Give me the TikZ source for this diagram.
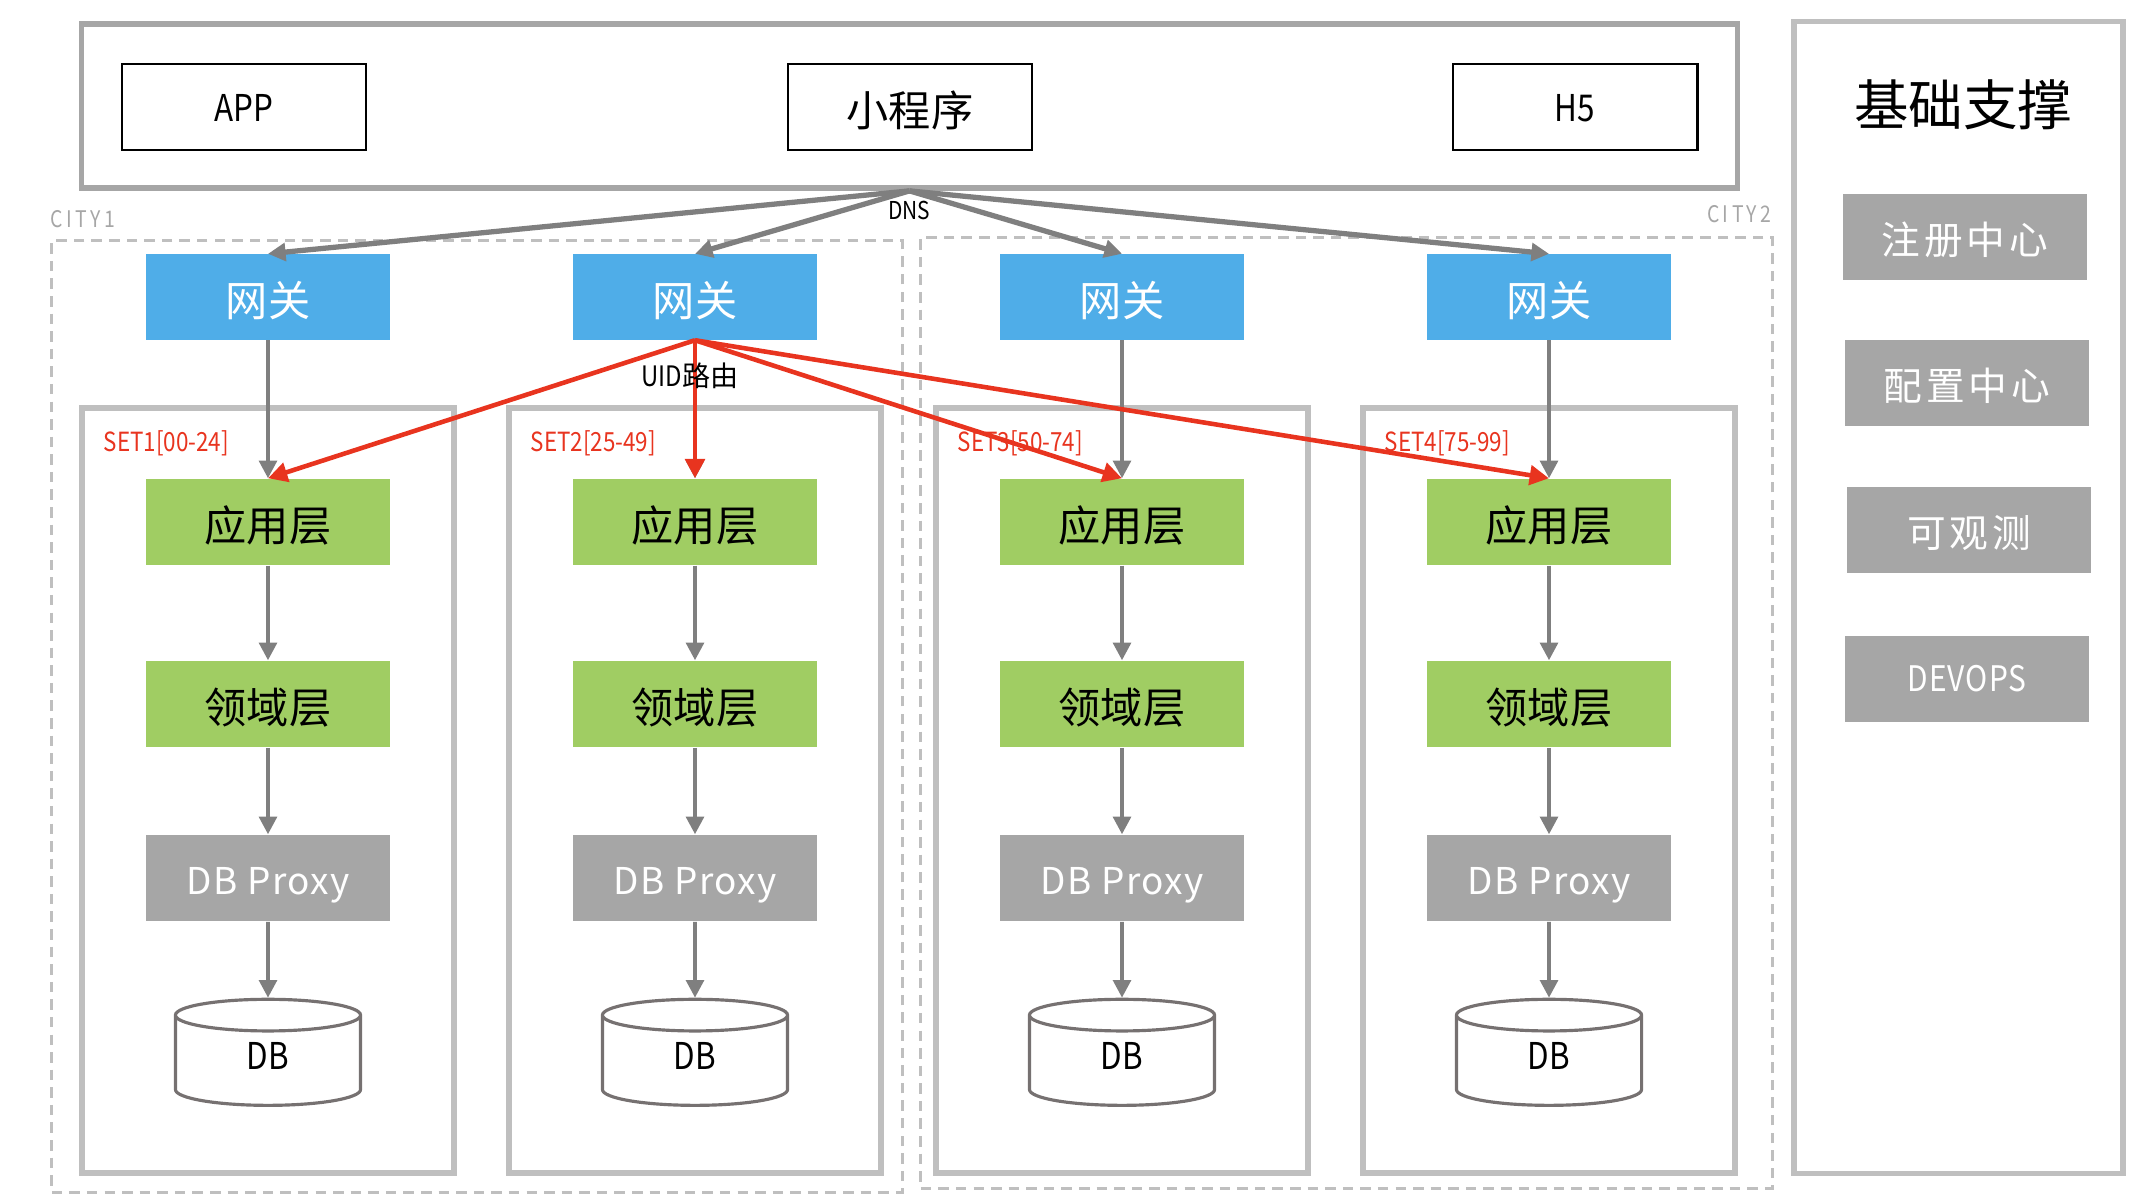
\documentclass[tikz,border=0pt]{standalone}
\usepackage{fontspec}
\setmainfont{Noto Sans CJK SC}
\newfontfamily\narrowfont[FakeStretch=0.85]{Noto Sans CJK SC}
\usetikzlibrary{shapes.geometric,arrows.meta,positioning}

\definecolor{gwblue}{HTML}{4FADE8}
\definecolor{layergreen}{HTML}{A0CD63}
\definecolor{boxgray}{HTML}{A6A6A6}
\definecolor{framegray}{HTML}{BFBFBF}
\definecolor{flowgray}{HTML}{7F7F7F}
\definecolor{cylgray}{HTML}{767171}
\definecolor{routered}{HTML}{E8341F}

\begin{document}
\begin{tikzpicture}[x=0.01cm,y=-0.01cm,
  every node/.style={align=center,inner sep=0pt},
  clientbox/.style={draw=black,line width=0.8pt,minimum width=2.44cm,minimum height=0.86cm,text height=8.5pt,text depth=0pt},
  gwbox/.style={fill=gwblue,text=white,minimum width=2.44cm,minimum height=0.85cm,text height=11pt,text depth=0pt,font=\fontsize{12}{14}\selectfont},
  layerbox/.style={fill=layergreen,minimum width=2.44cm,minimum height=0.86cm,text height=11pt,text depth=0pt,font=\fontsize{12}{14}\selectfont},
  proxybox/.style={fill=boxgray,text=white,minimum width=2.44cm,minimum height=0.86cm,text height=9.5pt,text depth=0pt,font=\fontsize{10.5}{12}\selectfont\addfontfeatures{LetterSpace=4}},
  dbcyl/.style={cylinder,shape border rotate=90,aspect=0.75,draw=cylgray,line width=0.9pt,fill=white,minimum width=1.85cm,minimum height=1.06cm,font=\narrowfont\fontsize{10.5}{12}\selectfont},
  setframe/.style={draw=framegray,line width=1.6pt,minimum width=3.72cm,minimum height=7.65cm},
  setlabel/.style={text=routered,font=\narrowfont\fontsize{7.5}{9}\selectfont},
  cityframe/.style={draw=framegray,line width=0.85pt,dash pattern=on 3pt off 2pt},
  citylabel/.style={text=boxgray,font=\narrowfont\fontsize{6.5}{8}\selectfont\addfontfeatures{LetterSpace=15}},
  supportbox/.style={fill=boxgray,text=white,minimum width=2.43cm,minimum height=0.85cm,text height=10pt,text depth=0pt,font=\fontsize{11}{13}\selectfont\addfontfeatures{LetterSpace=10}},
  flow/.style={draw=flowgray,line width=1.1pt,-{Triangle[width=5pt,length=5pt]}},
  dnsflow/.style={flow,line width=1.5pt},
  uidflow/.style={draw=routered,line width=1.3pt,-{Triangle[width=5.5pt,length=5.5pt]}}]
\useasboundingbox (0,0) rectangle (2134,1202);

% clients
\node[draw=boxgray,line width=1.6pt,minimum width=16.55cm,minimum height=1.64cm] (clients) at (909.5,106) {};
\node[clientbox,font=\narrowfont\fontsize{10.5}{12}\selectfont] (appclient) at (244,107) {APP};
\node[clientbox,text height=11pt,font=\fontsize{12}{14}\selectfont] (miniclient) at (910,107) {小程序};
\node[clientbox,font=\narrowfont\fontsize{10.5}{12}\selectfont] (hfiveclient) at (1575,107) {H5};
\node[font=\narrowfont\fontsize{7}{8}\selectfont] (dnslab) at (909,210) {DNS};

% cities
\node[cityframe,minimum width=8.5cm,minimum height=9.51cm] (city1) at (477,716.5) {};
\node[cityframe,minimum width=8.51cm,minimum height=9.5cm] (city2) at (1346.5,713) {};
\node[citylabel,anchor=west] (city1lab) at (50,219) {CITY1};
\node[citylabel,anchor=east] (city2lab) at (1772,214) {CITY2};

% sets
\foreach \i/\x/\setlab in {1/268/{SET1[00-24]},2/695/{SET2[25-49]},3/1122/{SET3[50-74]},4/1549/{SET4[75-99]}} {
  \node[setframe] (set\i) at (\x,790.5) {};
  \node[setlabel,anchor=west] (setlab\i) at ([xshift=0.24cm,yshift=-0.38cm]set\i.north west) {\setlab};
  \node[gwbox] (gw\i) at (\x,297) {网关};
  \node[layerbox] (app\i) at (\x,522) {应用层};
  \node[layerbox] (dom\i) at (\x,704) {领域层};
  \node[proxybox] (proxy\i) at (\x,878) {DB Proxy};
  \node[dbcyl] (db\i) at (\x,1061) {\raisebox{1.5pt}[7.7pt][0pt]{DB}};
  \draw[flow] (gw\i.south) -- (app\i.north);
  \draw[flow] (app\i.south) -- (dom\i.north);
  \draw[flow] (dom\i.south) -- (proxy\i.north);
  \draw[flow] (proxy\i.south) -- (db\i.north);
}

% dns
\foreach \i in {1,...,4}
  \draw[dnsflow] (clients.south) -- (gw\i.north);

% uid routing
\foreach \i in {1,...,4}
  \draw[uidflow] (gw2.south) -- (app\i.north);
\node[font=\fontsize{8}{10}\selectfont] (uidlab) at (690,376) {{\narrowfont UID}路由};

% support
\node[draw=framegray,line width=1.6pt,minimum width=3.29cm,minimum height=11.51cm] (support) at (1958.5,597.5) {};
\node[font=\fontsize{15.5}{18}\selectfont] (supporttitle) at (1963,105) {基础支撑};
\node[supportbox] (registry) at (1965,237) {注册中心};
\node[supportbox] (config) at (1967,383) {配置中心};
\node[supportbox] (observe) at (1969,530) {可观测};
\node[supportbox,text height=7pt,font=\narrowfont\fontsize{10}{12}\selectfont\addfontfeatures{LetterSpace=3}] (devops) at (1967,679) {DEVOPS};
\end{tikzpicture}
\end{document}
